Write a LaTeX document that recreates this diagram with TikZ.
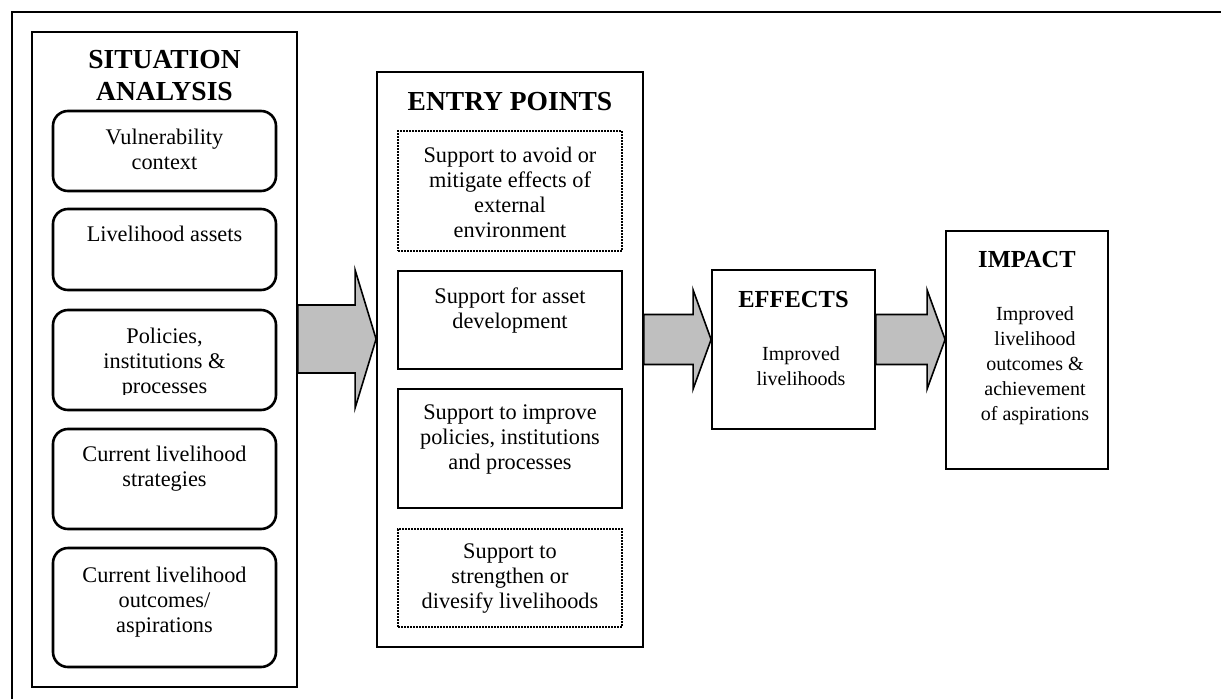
\documentclass[tikz,border=0pt]{standalone}
\usepackage{fontspec}
\setmainfont{Liberation Serif}
\usetikzlibrary{calc}
\newcommand\blockarr[6]{%
  \filldraw[barrow] let \p1=(#1.east), \p2=(#2.west) in
   (\x1,#3-#4) -- (\x2-#6pt,#3-#4) -- (\x2-#6pt,#3-#5) -- (\x2,#3)
   -- (\x2-#6pt,#3+#5) -- (\x2-#6pt,#3+#4) -- (\x1,#3+#4) -- cycle;}
\tikzset{
  bigbox/.style={draw=black, line width=1.8pt, inner sep=0pt},
  rbox/.style={draw=black, line width=2.6pt, rounded corners=15pt, inner sep=0pt, minimum width=223pt},
  sbox/.style={draw=black, line width=2.2pt, inner sep=0pt, minimum width=224pt},
  dbox/.style={draw=black, line width=2pt, dash pattern=on 1.6pt off 1.4pt, inner sep=0pt, minimum width=224pt},
  body/.style={anchor=base, align=center, inner sep=0pt, font=\fontsize{22.3}{25}\selectfont},
  small/.style={anchor=base, align=center, inner sep=0pt, font=\fontsize{20}{25}\selectfont},
  ttl/.style={anchor=base, align=center, inner sep=0pt, font=\bfseries\fontsize{27.5}{32}\selectfont},
  sttl/.style={anchor=base, align=center, inner sep=0pt, font=\bfseries\fontsize{24.5}{28}\selectfont},
  barrow/.style={draw=black, fill=black!25, line width=1.6pt, line join=miter}
}
% note: anchor=base of a multi-line node is the baseline of its last line
\begin{document}
\begin{tikzpicture}[x=1pt,y=-1pt]
\useasboundingbox (0,0) rectangle (1221,699);
\fill[white] (0,0) rectangle (1221,699);
% outer frame (top and left sides)
\draw[line width=2pt] (12,699) -- (12,12) -- (1221,12);

% situation analysis
\node[bigbox, minimum width=265pt, minimum height=655pt] (sit) at (164.5,359.5) {};
\node[ttl] (sitT) at (164.5,100) {SITUATION\\ANALYSIS};
\node[rbox, minimum height=80pt] (vul) at (164.5,151) {};
\node[body] (vulT) at ([yshift=-60pt]vul.north) {Vulnerability\\context};
\node[rbox, minimum height=81pt] (ast) at (164.5,249.5) {};
\node[body] (astT) at ([yshift=-34pt]ast.north) {Livelihood assets};
\node[rbox, minimum height=100pt] (pip) at (164.5,360) {};
\begin{scope}
\clip (53,300) rectangle (276,394);
\node[body] (pipT) at ([yshift=-85pt]pip.north) {Policies,\\institutions \&\\processes};
\end{scope}
\node[rbox, minimum height=100pt] (cls) at (164.5,479) {};
\node[body] (clsT) at ([yshift=-59pt]cls.north) {Current livelihood\\strategies};
\node[rbox, minimum height=119pt] (clo) at (164.5,607.5) {};
\node[body] (cloT) at ([yshift=-86pt]clo.north) {Current livelihood\\outcomes/\\aspirations};

% entry points
\node[bigbox, minimum width=266pt, minimum height=575pt] (ent) at (510,359.5) {};
\node[ttl] (entT) at (510,110) {ENTRY POINTS};
\node[dbox, minimum height=120pt] (e1) at (510,191) {};
\node[body] (e1T) at ([yshift=-107pt]e1.north) {Support to avoid or\\mitigate effects of\\external\\environment};
\node[sbox, minimum height=98pt] (e2) at (510,320) {};
\node[body] (e2T) at ([yshift=-59pt]e2.north) {Support for asset\\development};
\node[sbox, minimum height=119pt] (e3) at (510,448.5) {};
\node[body] (e3T) at ([yshift=-82pt]e3.north) {Support to improve\\policies, institutions\\and processes};
\node[dbox, minimum height=98pt] (e4) at (510,578) {};
\node[body] (e4T) at ([yshift=-80pt]e4.north) {Support to\\strengthen or\\divesify livelihoods};

% effects
\node[bigbox, minimum width=163pt, minimum height=159pt] (eff) at (793.5,349.5) {};
\node[sttl] (effT) at (793.5,307) {EFFECTS};
\node[small] (effB) at (801,385) {Improved\\livelihoods};

% impact
\node[bigbox, minimum width=162pt, minimum height=238pt] (imp) at (1027,350) {};
\node[sttl] (impT) at (1027,267) {IMPACT};
\node[small] (impB) at (1035,420) {Improved\\livelihood\\outcomes \&\\achievement\\of aspirations};

% block arrows
\blockarr{sit}{ent}{339}{34}{69}{21}
\blockarr{ent}{eff}{339.5}{25}{49.5}{18}
\blockarr{eff}{imp}{339.5}{25}{49.5}{18}
\end{tikzpicture}
\end{document}
